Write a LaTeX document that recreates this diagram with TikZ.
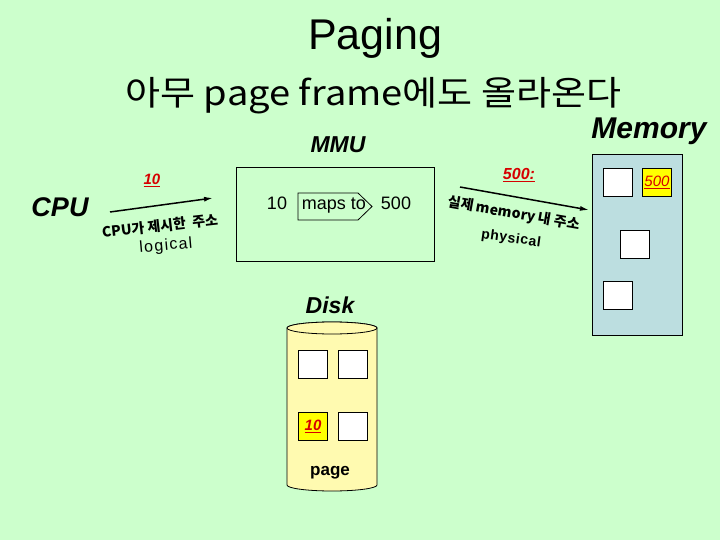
\documentclass[tikz,border=0pt]{standalone}
\usepackage{fontspec}
\setmainfont{Liberation Sans}
\newfontfamily\kr{Noto Sans CJK KR}
\usetikzlibrary{arrows.meta}
\definecolor{bg}{RGB}{204,255,204}
\definecolor{memfill}{RGB}{188,222,224}
\definecolor{diskfill}{RGB}{255,250,176}
\definecolor{hl}{RGB}{255,255,0}
\definecolor{redtxt}{RGB}{214,0,0}
\newcommand{\pxs}[1]{\fontsize{#1}{#1}\selectfont}
\begin{document}
\begin{tikzpicture}[x=1pt,y=-1pt,
  lbl/.style={inner sep=0pt, anchor=base},
  frame/.style={draw=black, line width=0.8pt},
  cell/.style={draw=black, fill=white, line width=0.8pt, minimum width=29pt, minimum height=28pt, inner sep=0pt},
  hlcell/.style={cell, fill=hl},
  arr/.style={-{Latex[length=9pt,width=5pt]}, line width=1.5pt}]
\useasboundingbox (0,0) rectangle (720,540);
\fill[bg] (0,0) rectangle (720,540);

% titles
\node[lbl, font=\pxs{43}] (title) at (375,50) {Paging};
\node[lbl, font=\kr\pxs{34}] (subtitle) at (373.5,106) {\scalebox{1.12}[1]{아무 page frame에도 올라온다}};
\node[lbl, font=\bfseries\itshape\pxs{23}] (mmulbl) at (338,153) {MMU};
\node[lbl, font=\bfseries\itshape\pxs{30}] (memlbl) at (649,139) {Memory};
\node[lbl, font=\bfseries\itshape\pxs{27}] (cpu) at (60,217) {CPU};
\node[lbl, font=\bfseries\itshape\pxs{23}] (disklbl) at (330,313) {Disk};

% MMU box
\draw[frame] (236,167) rectangle (434,261);
\node[lbl, font=\pxs{18}] (ten) at (277,210) {10};
\draw[frame] (298,193) -- (358,193) -- (372,206.5) -- (358,220) -- (298,220) -- cycle;
\node[lbl, font=\pxs{18}] (maps) at (334,210) {maps to};
\node[lbl, font=\pxs{18}] (fivehundred) at (396,210) {500};

% logical side
\node[lbl, text=redtxt, font=\bfseries\itshape\pxs{15}] (redten) at (152,185) {\underline{10}};
\coordinate (la1) at (110,212);
\coordinate (la2) at (213,198);
\draw[arr] (la1) -- (la2);
\node[inner sep=0pt, rotate=6.5, font=\kr\bfseries\pxs{14}] (cpuaddr) at (160,226) {CPU가 제시한~~주소};
\node[inner sep=0pt, rotate=5, font=\pxs{16}] (logical) at (166,246) {\addfontfeatures{LetterSpace=8}logical};

% physical side
\node[lbl, text=redtxt, font=\bfseries\itshape\pxs{16}] (redfive) at (519,180) {\underline{500:}};
\coordinate (ra1) at (460,187);
\coordinate (ra2) at (589,210);
\draw[arr] (ra1) -- (ra2);
\node[inner sep=0pt, rotate=-10, font=\kr\bfseries\pxs{14}] (realaddr) at (514,214) {실제 memory 내 주소};
\node[inner sep=0pt, rotate=-8, font=\bfseries\pxs{14}] (physical) at (511,239) {\addfontfeatures{LetterSpace=4}physical};

% memory
\draw[frame, fill=memfill] (592,154) rectangle (682,335);
\node[cell] (m1) at (617.5,182) {};
\node[hlcell, text=redtxt, font=\itshape\pxs{15}] (m2) at (657,182) {\underline{500}};
\node[cell] (m3) at (634.5,244) {};
\node[cell] (m4) at (617.5,295) {};

% disk
\path[frame, fill=diskfill] (287,328) -- (287,485)
  arc[start angle=180, end angle=360, x radius=45pt, y radius=6pt]
  -- (377,328)
  arc[start angle=0, end angle=180, x radius=45pt, y radius=6pt] -- cycle;
\draw[frame, fill=diskfill] (332,328) ellipse [x radius=45pt, y radius=6pt];
\node[cell] (d1) at (313,364) {};
\node[cell] (d2) at (352.5,364) {};
\node[hlcell, text=redtxt, font=\bfseries\itshape\pxs{15}] (d3) at (313,426) {\underline{10}};
\node[cell] (d4) at (352.5,426) {};
\node[lbl, font=\bfseries\pxs{17}] (page) at (330,475) {page};
\end{tikzpicture}
\end{document}
